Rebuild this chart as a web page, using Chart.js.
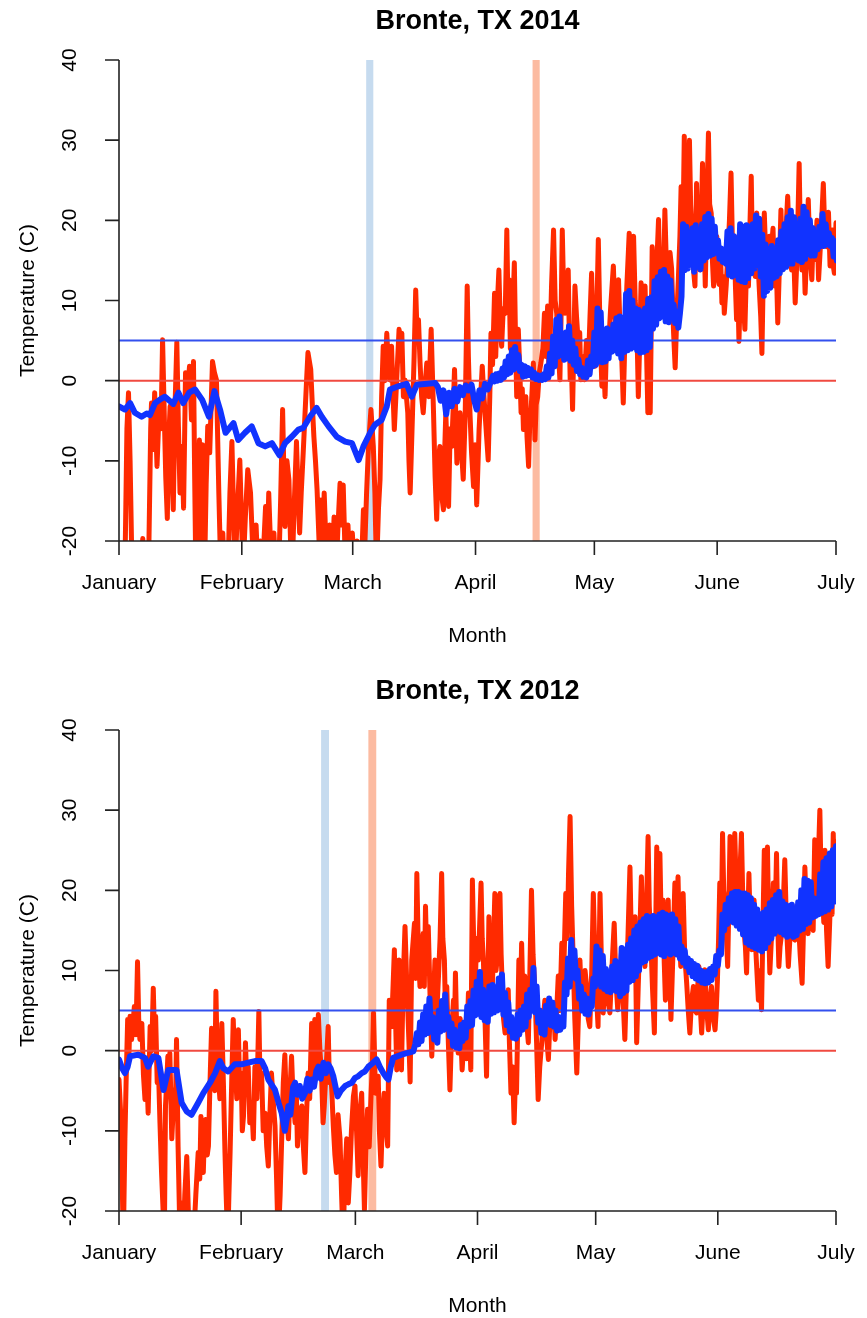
<!DOCTYPE html>
<html>
<head>
<meta charset="utf-8">
<script src="https://cdn.jsdelivr.net/npm/chart.js@4.4.1/dist/chart.umd.min.js"></script>
<style>
  body { margin: 0; background: #fff; }
  .panel { position: absolute; left: 0; width: 867px; height: 648px; }
</style>
</head>
<body>
<div class="panel" style="top:0"><canvas id="chart2014" width="867" height="648"></canvas></div>
<div class="panel" style="top:670px"><canvas id="chart2012" width="867" height="648"></canvas></div>
<script>
// x = day of year (0 = Jan 1), y = temperature (C). values below -20 are cut off by the plot
const monthNames = ['January', 'February', 'March', 'April', 'May', 'June', 'July'];
const monthStart2014 = [0, 31, 59, 90, 120, 151, 181];
const monthStart2012 = [0, 31, 60, 91, 121, 152, 182];
const tempTicks = [-20, -10, 0, 10, 20, 30, 40];

const coldBand2014 = [62.4, 64.2];
const warmBand2014 = [104.4, 106.2];
const coldBand2012 = [51.3, 53.3];
const warmBand2012 = [63.3, 65.3];

// air temperature, [day, C]
const airTemp2014 = [[0,-24],[1,-24],[1.6,-20],[2,-6],[2.4,-1.5],[2.8,-10],[3.3,-24],[5.5,-24],[6,-19.7],[6.4,-24],[7.5,-22],[8,-6],[8.2,-2.8],[8.6,-8.6],[9,-1.5],[9.6,-10.7],[10.2,-2.8],[10.6,-6],[11,5.1],[11.5,-5.7],[11.8,-12],[12.2,-17.2],[12.5,-8],[12.9,-3.2],[13.3,-9.9],[13.7,-16.1],[14.1,-4],[14.6,4.8],[15,-5.7],[15.4,-14],[15.9,-8.2],[16.3,-15.9],[16.8,1],[17.3,-1.5],[17.8,1.8],[18.3,-4.9],[18.8,2.4],[19.1,-12],[19.4,-24],[19.8,-15],[20.3,-7.4],[20.7,-24],[21.1,-8],[21.6,-24],[22,-13],[22.4,-5.7],[22.9,-9],[23.6,2.4],[24.1,1],[24.6,0.1],[25.2,-14],[25.7,-24],[26.2,-19],[26.6,-24],[27,-22],[27.5,-24],[28,-14],[28.5,-7.6],[29.3,-24],[29.9,-16],[30.5,-9.9],[31.3,-24],[31.9,-17],[32.5,-11.1],[33.2,-14],[34,-24],[34.6,-18],[35.1,-24],[35.7,-20],[36,-24],[36.5,-21],[37,-15.7],[37.4,-22],[37.8,-14],[38.5,-24],[39.1,-19],[39.6,-24],[40.3,-24],[40.8,-15],[41.3,-3.6],[41.9,-18.2],[42.4,-10],[42.9,-12.4],[43.3,-20],[43.7,-24],[44.2,-16],[44.8,-7.6],[45.2,-14],[45.6,-19],[46,-14],[46.5,-9],[47.3,-0.5],[47.7,3.5],[48.4,1.4],[48.8,-3],[49.2,-7],[49.6,-10],[50,-13.6],[50.5,-20],[51,-14.9],[51.4,-21],[51.8,-14],[52.5,-24],[53.2,-18],[53.7,-24],[54.3,-17],[54.8,-24],[55.3,-18],[55.8,-12.8],[56.2,-18],[56.6,-13],[57.2,-24],[57.8,-18],[58.3,-24],[58.9,-19],[59.5,-24],[60.1,-20],[60.7,-24],[61.3,-22],[61.7,-16.1],[62.1,-20],[62.5,-14],[63,-8],[63.6,-3.6],[64.2,-8.2],[64.6,-14],[65,-24],[65.5,-16],[65.9,-12.3],[66.3,-2],[66.7,4.3],[67.1,0],[67.6,5.9],[68,2],[68.4,0.1],[68.8,4.3],[69.2,-2],[69.5,-6.1],[70.1,0.1],[70.7,6.4],[71.1,2.5],[71.4,5.9],[71.8,-2],[72.2,0.1],[72.9,-4],[73.2,-10],[73.5,-14],[74.1,-4],[74.5,3],[74.9,11.3],[75.3,5],[75.6,7.6],[76,2.2],[76.4,-2],[76.8,-4],[77.2,-1],[77.7,2.2],[78.2,-2],[78.8,6.4],[79.4,-4],[79.8,-12],[80.2,-17.3],[80.6,-10],[81,-8.2],[81.4,-14],[81.9,-16.1],[82.2,-9],[82.5,-4],[82.9,-10],[83.2,-15.7],[83.6,-6],[84,-8.2],[84.4,-3],[84.7,1.4],[85,-4],[85.3,-10.3],[85.7,-6],[86.1,-4],[86.5,-9],[86.9,-12.3],[87.4,-4],[87.9,11.8],[88.2,3],[88.6,-4],[89,-9],[89.5,-13.2],[89.9,-8],[90.3,-15.5],[90.9,-6.1],[91.3,-2],[91.7,1.8],[92,-1],[92.4,-4],[92.8,-7],[93.2,-9.9],[93.6,-2],[93.9,5.9],[94.3,2],[94.8,10.9],[95.1,3],[95.4,8.4],[95.9,13.8],[96.3,6],[96.6,4.3],[97,9],[97.5,8.4],[97.9,18.8],[98.2,9],[98.5,12.6],[98.8,4],[99.1,6.4],[99.5,10],[99.8,14.7],[100.1,5],[100.4,-2],[100.8,6.4],[101.2,1],[101.5,-4],[101.8,-1],[102.1,-6.1],[102.4,-2.5],[102.7,-2],[103,-7],[103.4,-10.7],[103.7,-5],[104,-4],[104.3,-1],[104.6,2.2],[105,-7.4],[105.3,-3],[105.7,-2],[106.1,1],[106.5,2.2],[107,4],[107.4,8.4],[107.8,3],[108.2,9.3],[108.5,2],[108.8,4.3],[109.2,12],[109.7,18.8],[110.1,10],[110.5,8.4],[110.9,4],[111.3,0.1],[111.6,8],[111.9,18.8],[112.2,12],[112.6,8.4],[113,10],[113.4,13.8],[113.7,5],[113.9,0.1],[114.2,2],[114.5,-3.6],[114.8,4],[115.1,11.8],[115.5,8],[116,4.3],[116.3,6],[116.6,0.1],[117,3],[117.5,0.1],[118,5],[118.5,2.2],[118.9,8],[119.3,13.4],[119.7,6],[120.2,1.8],[120.6,8],[121,17.6],[121.4,7],[121.9,-0.7],[122.3,3],[122.7,-2],[123.1,5],[123.5,3.4],[124.1,9],[124.8,14.3],[125.2,8],[125.6,5.5],[126.1,12.6],[126.5,6],[126.9,3],[127.3,-2.8],[127.7,5],[128.2,11.8],[128.8,18.4],[129.4,8],[129.9,18],[130.3,10],[130.7,7.6],[131.1,-2],[131.5,6],[131.8,12.2],[132.3,6],[132.8,11.8],[133.2,3],[133.5,-4],[133.8,2],[134.1,-4],[134.6,16.7],[135,11],[135.3,9.3],[135.8,15],[136.2,20.1],[136.6,12],[137,14.7],[137.4,10],[137.8,21.3],[138.2,14],[138.7,9.3],[139.1,16],[139.5,14],[140,6],[140.4,1.6],[140.8,8],[141.2,12.6],[141.6,18],[141.9,24.2],[142.3,16],[142.7,30.5],[143,20],[143.3,24.2],[143.6,16],[144,30],[144.3,22],[144.6,18.8],[145,14],[145.4,11.8],[145.8,24.6],[146.2,16],[146.7,13.8],[147,20],[147.3,27.1],[147.7,18],[148,11.8],[148.4,22],[148.8,30.9],[149.1,22],[149.5,20.9],[149.8,15],[150.1,11.8],[150.5,16],[150.9,18],[151.2,13],[151.5,12],[151.9,15],[152.2,9.7],[152.5,13],[152.8,8.4],[153.3,12],[153.7,15.9],[154.1,20],[154.5,25.9],[154.9,16],[155.4,18],[155.6,12],[155.9,7.6],[156.2,12],[156.5,4.9],[156.9,12],[157.2,15.9],[157.6,10],[158,6.4],[158.4,14],[158.9,11.8],[159.2,18],[159.6,25.5],[159.9,16],[160.2,18],[160.6,13],[161,20.9],[161.3,15],[161.6,11.8],[162,8],[162.3,3.4],[162.6,12],[162.9,20.9],[163.3,15],[163.8,13.8],[164.2,18],[164.6,15.9],[165.1,19],[165.5,11.8],[165.9,15],[166.3,7.2],[166.7,14],[167.1,21.3],[167.5,14],[168,15.1],[168.4,19],[168.8,23],[169.3,16],[169.8,13.8],[170.2,18],[170.7,9.7],[171.2,16],[171.7,27.1],[172,18],[172.4,13.8],[172.8,18],[173.2,10.9],[173.6,16],[174,22.6],[174.4,16],[174.9,12.6],[175.3,19],[175.7,15.1],[176.2,20],[176.6,12.6],[177.2,18],[177.8,24.6],[178.2,18],[178.7,16.7],[179.1,21],[179.5,14.3],[179.8,17],[180.1,18.8],[180.4,14],[180.6,13.4],[180.8,17],[181,19.7]];

const airTemp2012 = [[0,-3.6],[0.5,-8.6],[0.8,-16],[1.1,-24],[1.5,-11],[1.8,-4],[2.2,3.9],[2.5,-1],[2.8,4.3],[3.2,1.4],[3.9,5.5],[4.3,2],[4.7,11.1],[5,4],[5.3,1.4],[5.8,3.4],[6.2,-3],[6.6,-6.1],[7,-2],[7.4,-7.8],[7.9,3],[8.3,0],[8.7,7.8],[9,2],[9.3,4.3],[9.7,-4],[10,-2],[10.4,-9],[10.8,-15.2],[11.2,-20],[11.5,-24],[11.8,-6.9],[12.1,-4],[12.4,-0.7],[12.6,-5],[12.9,-0.3],[13.4,-11],[13.7,-8],[14,-4.9],[14.3,-8],[14.6,1.4],[15,-12],[15.5,-24],[15.9,-19],[16.3,-24],[16.7,-18],[17.2,-13.2],[17.6,-20],[18,-24],[18.4,-21],[18.9,-24],[19.5,-18],[20.1,-12.7],[20.5,-16],[20.8,-8.2],[21.1,-12],[21.4,-15.2],[21.7,-10],[22,-8.6],[22.4,-13],[22.7,-11.9],[23.1,-4],[23.5,2.8],[23.8,-4],[24.1,-2],[24.3,-5],[24.6,7.4],[24.9,0],[25.2,-2.8],[25.6,-6],[26.1,3.4],[26.5,-4],[26.9,-12.7],[27.2,-18],[27.6,-24],[27.9,-18],[28.2,-12.7],[28.6,-4],[29,3.9],[29.3,-1],[29.6,-2.8],[29.9,-6],[30.3,2.6],[30.6,-4],[31,-2.8],[31.3,-10],[31.6,-8.2],[31.9,-3],[32.1,1],[32.5,-5],[32.8,-2],[33.2,-9],[33.7,-6.9],[34.1,-11],[34.5,-2],[35,-6],[35.5,4.9],[35.8,-4],[36.2,-2.8],[36.6,-10],[37.1,-7.8],[37.5,-12],[37.9,-14.4],[38.3,-8],[38.7,-2.8],[39.1,-6],[39.6,-9.4],[40,-16],[40.4,-24],[40.9,-18],[41.3,-11],[41.7,-4],[42.1,-0.5],[42.5,-7],[43,-11],[43.4,-5],[43.8,-0.7],[44.2,-6],[44.7,-9],[45,-5],[45.3,-11.9],[45.8,-8],[46.4,-6.9],[46.8,-12],[47.2,-15.2],[47.6,-8],[48,-2.8],[48.4,-6],[48.9,3.4],[49.3,-3],[49.7,3.9],[50.1,-2],[50.6,4.5],[51,0],[51.4,-2.8],[51.8,-9],[52.1,-6.9],[52.6,-2],[53.1,3],[53.4,-4],[53.8,-2.8],[54.1,-6],[54.4,-9.4],[54.8,-13],[55.2,-15.2],[55.6,-8],[56.1,-11],[56.5,-18],[56.9,-24],[57.3,-16],[57.8,-11],[58.2,-19],[58.6,-15.2],[59,-10],[59.5,-5.7],[59.9,-4.4],[60.3,-10],[60.7,-15.6],[61.1,-8],[61.6,-5.3],[61.9,-12],[62.3,-19.8],[62.7,-12],[63.1,-7.3],[63.5,-12],[64,-5.3],[64.3,-2],[64.6,4.7],[65.1,-5.3],[65.8,-3.2],[66.1,-10],[66.5,-14.4],[66.9,-8],[67.3,-5.3],[67.7,-9],[68.2,-11.9],[68.6,6.3],[69.2,3],[69.9,12.6],[70.2,4],[70.5,-2.4],[70.8,6],[71.1,11.3],[71.4,3],[71.7,-2.4],[72.1,8],[72.6,15.5],[73,9],[73.3,5.1],[73.6,1],[73.9,-3.9],[74.3,11.3],[75,15.9],[75.3,9],[75.6,22.1],[76,12],[76.4,8],[76.8,12],[77.2,14.6],[77.5,8],[77.8,18],[78.2,10],[78.5,15.5],[79,6],[79.4,-0.7],[79.8,6],[80.2,11.3],[80.6,4],[81.1,9.3],[81.5,14],[81.9,22.1],[82.2,14],[82.6,11.3],[82.9,4],[83.2,8],[83.6,1],[84,-4.9],[84.4,2],[84.9,6.3],[85.1,1],[85.4,9.7],[85.7,3],[86.1,-0.3],[86.6,4],[87.1,-2.4],[87.5,1],[87.8,3],[88.2,-1],[88.7,7.2],[89,2],[89.3,-2.4],[89.7,21.3],[90.1,12],[90.4,8],[90.8,14],[91.2,11.3],[91.5,15],[91.9,20.9],[92.2,14],[92.5,11.3],[92.9,4],[93.3,-3.2],[93.9,16.7],[94.2,9],[94.6,4.7],[95,12],[95.4,19.6],[95.7,10],[96.1,12],[96.4,18],[96.7,19.6],[97,12],[97.3,8],[97.6,4],[98,2.2],[98.4,5],[98.8,7.6],[99.1,1],[99.5,-5.3],[99.9,-2],[100.3,-9],[100.6,-4],[100.9,-5.3],[101.2,3],[101.5,11.3],[101.9,6],[102.2,13.4],[102.6,5],[103,9.3],[103.4,4],[103.9,1],[104.3,10],[104.7,20],[105.1,12],[105.6,7.2],[106,1],[106.4,-6.1],[106.8,-2],[107.3,1],[107.7,4],[108.1,6.3],[108.5,2],[109,-1.1],[109.4,4],[109.8,3],[110.3,6],[110.7,1.4],[111.1,5],[111.5,9.3],[111.9,5],[112.4,13.4],[112.8,8],[113.4,19.6],[113.8,14],[114.1,22],[114.5,29.2],[114.9,18],[115.3,11.3],[115.7,4],[116.2,-2.8],[116.6,4],[117,11.3],[117.4,6],[117.9,5.1],[118.3,10],[118.7,8],[119.1,4],[119.5,3],[120,10],[120.4,19.6],[120.8,12],[121.1,8],[121.6,3],[122.1,19.6],[122.5,10],[122.9,4.7],[123.3,8],[123.8,9.7],[124.2,6],[124.6,4.7],[125.1,10],[125.7,15.9],[126.1,9],[126.6,5.1],[127.1,9],[127.6,12.6],[128,6],[128.4,1.4],[128.8,8],[129.1,12.6],[129.7,22.9],[130,15],[130.3,10.5],[130.7,14],[131,16.7],[131.4,1],[131.8,8],[132.1,12.6],[132.6,21.7],[133,14],[133.5,10.5],[133.9,18],[134.3,26.7],[134.6,18],[135,13.8],[135.4,8],[135.9,2.2],[136.2,14],[136.5,25.4],[136.9,16],[137.3,24.6],[137.7,14],[138.1,18.8],[138.4,11],[138.7,6.3],[139.1,12],[139.4,18.8],[139.8,10],[140.1,3.9],[140.6,12],[141.1,20.9],[141.5,14],[141.9,21.7],[142.2,15],[142.6,10.5],[142.9,14],[143.2,19.6],[143.6,12],[144.1,8.4],[144.5,5],[144.9,2.2],[145.3,6],[145.8,8],[146.2,5],[146.6,4.7],[146.9,8],[147.2,10.5],[147.6,5],[147.9,2.2],[148.3,6],[148.7,10.1],[149.2,5],[149.6,2.6],[150,6],[150.4,8],[150.9,4],[151.3,2.6],[151.6,5],[151.9,8.8],[152.2,14],[152.5,20.9],[152.9,16],[153.2,27.1],[153.5,20],[153.8,18.8],[154.2,14],[154.5,10.5],[154.8,18],[155.1,26.7],[155.4,20],[155.7,18],[156,22],[156.3,27.1],[156.7,20],[157.2,18.8],[157.6,22],[158,27.1],[158.3,20],[158.7,14.6],[159,13],[159.3,9.7],[159.6,16],[159.9,22.1],[160.2,16],[160.6,12.6],[160.9,15],[161.2,18.8],[161.7,12],[162.3,6.3],[162.7,10],[163.1,5.1],[163.4,14],[163.8,25],[164.2,18],[164.6,25.4],[164.9,16],[165.2,9.7],[165.6,14],[166.1,20.9],[166.5,15],[166.9,24.6],[167.2,16],[167.5,10.5],[167.8,13],[168.2,14.6],[168.6,18],[169,23.8],[169.4,16],[169.9,10.5],[170.3,14],[170.7,18],[171.1,14],[171.6,13.8],[172,18],[172.4,16.7],[172.9,12],[173.4,8.4],[173.8,16],[174.1,22.9],[174.5,17],[174.9,14.6],[175.3,18],[175.8,18.8],[176.2,15],[176.6,26.3],[177,17.1],[177.4,22],[177.9,30],[178.2,22],[178.5,20.9],[178.9,16],[179.2,25],[179.6,15],[180,10.5],[180.4,16],[180.7,20.9],[181,17],[181.3,27.1],[181.7,18.8],[182,26]];

// soil temperature: slow part as [day, C] ...
const soilTemp2014 = [[0,-3.2],[1.5,-3.6],[2.8,-2.8],[4,-4],[5.7,-4.5],[7,-4.1],[7.8,-4.3],[9.1,-2.8],[10.5,-2.3],[11.6,-2],[13.7,-2.9],[15,-1.5],[16.2,-2.8],[17.7,-1.5],[19.2,-1.1],[21,-2.4],[22.7,-4.5],[24.1,-1.3],[25.5,-3.6],[26.9,-6.5],[28.9,-5.3],[30.1,-7.4],[31.8,-6.5],[33.5,-5.7],[35.2,-7.8],[36.9,-8.2],[38.6,-7.8],[40.5,-9.3],[41.9,-7.8],[43.6,-7],[45.3,-6.1],[46.5,-5.9],[48.2,-4.5],[49.9,-3.4],[51.2,-4.5],[52.9,-5.7],[55,-7],[57.1,-7.6],[58.8,-7.8],[60.5,-9.9],[61.7,-8.2],[63.4,-6.5],[64.6,-5.5],[66.3,-4.9],[67.6,-3.2],[68.4,-1.1],[70.5,-0.7],[72.6,-0.4],[73.9,-2],[75.2,-0.5],[79.8,-0.3],[80.5,-0.8],[81.2,-2.5],[81.9,-1.2],[82.6,-4.2],[83.3,-1.5],[84,-3.2],[84.7,-1],[85.4,-2.6],[86.1,-0.8],[86.8,-1.8],[87.5,-0.6],[88.3,-1.2],[89,-0.5],[89.7,-2.5],[90.3,-3.6],[91,-1.2],[91.7,-2.2],[92.4,-0.4],[93.1,-1.1],[93.8,-0.2]];
const soilTemp2012 = [[0,-1.1],[0.8,-2.2],[1.5,-2.8],[2.2,-2],[2.8,-0.7],[4.9,-0.5],[6.6,-0.9],[7.4,-2],[8.7,-0.7],[10,-0.9],[11.3,-4.9],[12.5,-2.4],[14.6,-2.4],[15.9,-6.5],[17.2,-7.6],[18.4,-8],[20.1,-6.5],[21.4,-5.3],[23.1,-4],[24.4,-2.8],[25.6,-1.3],[26.5,-2.2],[27.7,-2.6],[29.4,-1.7],[31.1,-1.7],[32.8,-1.5],[34.5,-1.3],[36.2,-1.3],[37.1,-2.2],[37.9,-3.6],[39.6,-4.9],[40.5,-6.5],[41.3,-7.8],[42.1,-10],[42.6,-8.5],[43,-6.9],[43.5,-8],[44.2,-4.5],[44.7,-4],[45.3,-5.5],[45.9,-4.4],[46.5,-6],[47.2,-5.3],[47.8,-3.5],[48.4,-5],[48.9,-3.6],[49.5,-4.5],[50.1,-2.5],[50.6,-2],[51.2,-3.5],[51.9,-1.5],[52.5,-2.8],[53.1,-1.7],[53.7,-2.2],[54.4,-3.2],[55,-4.6],[55.5,-5.7],[56.3,-5],[57.4,-4.4],[58.2,-4.2],[59.1,-4],[59.9,-3.4],[60.7,-3.2],[61.6,-2.8],[62.4,-2.6],[63.3,-2],[64.3,-1.6],[65.4,-1.1],[66.2,-2],[67.1,-2.8],[67.8,-3.3],[68.4,-3.6],[69,-2],[69.6,-0.9],[71.7,-0.5],[74.7,-0.1]];

// ... then the daily cycle, one reading every SOIL_STEP days from the start day
const SOIL_STEP = 0.4;
const soilCycleStart2014 = 94.4;
const soilCycle2014 = [
  0.6,-0.1,0.8,0,0.9,0.1,1.5,0.4,2.4,0.8,
  3.0,1.0,3.8,1.4,4.2,1.6,3.2,1.2,2.0,0.5,
  1.8,0.6,1.6,0.7,1.4,0.4,1.0,0.2,0.7,0.1,
  0.6,0.1,0.8,0.2,1.8,0.4,3.4,0.9,5.5,1.8,
  7.6,3.0,8.0,3.2,5.6,2.6,6.0,2.8,6.8,2.5,
  5.0,2.0,4.0,1.2,2.6,0.8,1.6,0.5,1.4,0.4,
  2.5,0.8,3.0,1.8,6.0,2.0,9.0,2.4,8.5,2.3,
  5.8,2.4,6.5,2.8,6.3,3.6,7.0,3.8,7.8,3.4,
  8.0,2.8,6.3,3.6,10.8,3.8,11.2,4.0,10.0,4.2,
  9.0,3.8,8.8,3.5,8.5,3.6,9.0,3.8,10.2,4.2,
  10.4,6.5,12.4,7.0,12.9,7.8,13.6,8.0,13.8,7.4,
  13.0,7.3,12.5,8.5,9.5,7.2,8.6,6.6,8.4,10.5,
  19.5,13.8,19.2,14.0,18.5,14.6,19.0,13.6,19.4,14.2,
  18.8,13.9,19.5,15.0,20.4,15.4,20.8,15.6,20.2,15.8,
  19.2,16.0,17.5,15.2,16.5,14.8,16.2,14.6,18.6,13.2,
  19.0,13.0,18.0,13.2,17.2,12.6,19.5,12.4,19.2,12.3,
  19.4,12.8,19.2,13.4,19.5,14.0,20.6,14.4,20.2,13.0,
  18.2,10.6,17.0,11.2,16.4,11.6,16.8,12.8,16.2,13.0,
  17.5,13.4,18.6,13.9,19.5,14.2,20.4,14.6,21.2,14.6,
  20.4,15.2,19.5,15.0,20.2,14.8,21.7,15.2,21.0,15.8,
  20.0,15.6,19.0,15.6,18.3,16.4,19.2,16.8,20.8,16.8,
  19.5,17.0,18.4,16.8,17.8,15.5,17.4,15.0
];
const soilCycleStart2012 = 75.2;
const soilCycle2012 = [
  0.8,2.2,0.8,3.5,1.2,4.5,2.0,5.5,2.2,6.5,
  2.5,4.2,1.4,4.0,1.0,5.0,2.4,6.2,2.6,7.0,
  2.8,4.2,1.8,3.4,0.6,2.6,0.4,2.2,0.3,3.2,
  1.2,3.5,1.6,5.5,3.0,6.2,3.2,7.5,4.4,8.6,
  4.6,9.8,4.2,7.6,3.8,6.5,3.6,8.0,4.6,8.2,
  4.8,7.8,5.0,9.0,5.2,9.5,4.5,7.2,3.2,6.0,
  2.4,4.2,1.6,3.6,1.5,4.5,2.0,5.0,2.6,5.5,
  3.0,7.0,4.2,7.6,5.0,10.3,4.8,8.0,3.5,5.0,
  2.2,4.6,2.0,5.6,3.4,6.5,3.2,6.0,3.0,5.0,
  2.5,4.2,2.6,4.0,3.0,8.5,7.0,11.5,8.0,13.8,
  9.2,12.5,9.0,10.0,6.5,8.0,5.0,7.0,4.6,6.5,
  4.5,6.2,5.5,9.0,8.0,13.0,8.4,12.5,8.0,11.8,
  7.7,10.2,7.4,9.6,7.3,10.5,7.6,11.2,7.4,11.0,
  6.8,12.8,7.2,12.6,7.5,13.2,8.6,14.0,8.8,15.0,
  9.3,15.5,10.0,16.0,11.0,16.4,11.2,16.8,11.6,16.6,
  11.8,16.8,12.0,16.6,12.2,17.0,12.0,17.2,11.8,17.0,
  12.2,16.8,12.0,17.0,12.2,16.4,12.0,15.5,11.5,13.0,
  11.0,12.5,10.5,11.5,9.8,11.2,9.3,10.8,9.0,10.6,
  8.8,10.0,8.5,9.8,8.4,9.8,8.5,10.2,8.8,10.5,
  9.5,11.8,10.6,12.5,12.0,17.0,15.0,18.2,15.8,19.0,
  16.2,19.6,16.0,19.8,15.6,19.8,15.2,19.6,14.5,19.6,
  13.5,19.4,13.2,19.0,13.0,18.2,12.8,17.6,12.6,17.0,
  12.4,17.2,12.8,17.6,13.5,18.4,14.0,18.8,14.6,19.4,
  15.0,19.8,14.8,18.6,14.5,18.2,14.2,18.0,14.4,18.2,
  14.2,17.5,14.4,18.5,15.0,20.0,15.2,21.4,15.8,21.2,
  16.0,21.0,16.6,19.0,16.8,18.7,17.0,22.0,17.2,23.5,
  17.4,24.0,17.6,24.6,18.0,25.0,18.6,25.5
];

const AIR_COLOR = '#ff2a00';
const SOIL_COLOR = '#1133ff';
const FONT = '"Liberation Sans", Arial, Helvetica, sans-serif';

function toXY(pairs) {
  return pairs.map(p => ({ x: p[0], y: p[1] }));
}

function soilSeries(slow, cycleStart, cycle) {
  const pts = toXY(slow);
  cycle.forEach((v, i) => pts.push({ x: +(cycleStart + i * SOIL_STEP).toFixed(1), y: v }));
  return pts;
}

// R base-graphics look: bands behind, axes + labels drawn by hand on the chart's scales
function rStylePlugin(cfg) {
  return {
    id: 'rStyle',
    beforeDatasetsDraw(chart) {
      const { ctx, scales: { x, y } } = chart;
      const top = y.getPixelForValue(40), bottom = y.getPixelForValue(-20);
      ctx.save();
      [[cfg.coldBand, '#c6dbef'], [cfg.warmBand, '#fcbba1']].forEach(([band, color]) => {
        const x0 = x.getPixelForValue(band[0]);
        const x1 = x.getPixelForValue(band[1]);
        ctx.fillStyle = color;
        ctx.fillRect(x0, top, x1 - x0, bottom - top);
      });
      ctx.restore();
    },
    afterDraw(chart) {
      const { ctx, chartArea: area, scales: { x, y } } = chart;
      ctx.save();
      ctx.strokeStyle = '#222';
      ctx.lineWidth = 1.6;
      ctx.fillStyle = '#000';

      // y axis
      ctx.beginPath();
      ctx.moveTo(area.left, y.getPixelForValue(-20));
      ctx.lineTo(area.left, y.getPixelForValue(40));
      tempTicks.forEach(v => {
        const py = y.getPixelForValue(v);
        ctx.moveTo(area.left - 14, py);
        ctx.lineTo(area.left, py);
      });
      // x axis
      const ay = y.getPixelForValue(-20);
      ctx.moveTo(x.getPixelForValue(cfg.monthStart[0]), ay);
      ctx.lineTo(x.getPixelForValue(cfg.monthStart[cfg.monthStart.length - 1]), ay);
      cfg.monthStart.forEach(d => {
        const px = x.getPixelForValue(d);
        ctx.moveTo(px, ay);
        ctx.lineTo(px, ay + 14);
      });
      ctx.stroke();

      ctx.font = '21px ' + FONT;
      ctx.textAlign = 'center';
      ctx.textBaseline = 'middle';
      tempTicks.forEach(v => {
        ctx.save();
        ctx.translate(area.left - 49, y.getPixelForValue(v));
        ctx.rotate(-Math.PI / 2);
        ctx.fillText(String(v), 0, 0);
        ctx.restore();
      });
      cfg.monthStart.forEach((d, i) => {
        ctx.fillText(monthNames[i], x.getPixelForValue(d), ay + 42);
      });
      ctx.fillText('Month', (area.left + area.right) / 2, ay + 95);
      ctx.save();
      ctx.translate(28, (area.top + area.bottom) / 2);
      ctx.rotate(-Math.PI / 2);
      ctx.fillText('Temperature (C)', 0, 0);
      ctx.restore();

      ctx.font = 'bold 27px ' + FONT;
      ctx.fillText(cfg.title, (area.left + area.right) / 2, 22);
      ctx.restore();
    }
  };
}

function buildChart(id, cfg) {
  const lastDay = cfg.monthStart[cfg.monthStart.length - 1];
  return new Chart(document.getElementById(id), {
    type: 'line',
    data: {
      datasets: [
        { data: cfg.soil, borderColor: SOIL_COLOR, borderWidth: 6, order: 0 },
        { data: [{ x: 0, y: 5 }, { x: lastDay, y: 5 }], borderColor: '#3350ee', borderWidth: 2, order: 1 },
        { data: [{ x: 0, y: 0 }, { x: lastDay, y: 0 }], borderColor: '#f04a40', borderWidth: 2, order: 1 },
        { data: toXY(cfg.air), borderColor: AIR_COLOR, borderWidth: 5, order: 2 }
      ]
    },
    options: {
      responsive: false,
      animation: false,
      devicePixelRatio: 1,
      events: [],
      layout: { padding: { left: 119, right: 31, top: 60, bottom: 107 } },
      elements: {
        point: { radius: 0 },
        line: { tension: 0, fill: false, borderJoinStyle: 'round', borderCapStyle: 'round' }
      },
      datasets: { line: { clip: 0 } },
      scales: {
        x: { type: 'linear', min: 0, max: lastDay, display: false },
        y: { min: -20, max: 40, display: false }
      },
      plugins: { legend: { display: false }, tooltip: { enabled: false } }
    },
    plugins: [rStylePlugin(cfg)]
  });
}

buildChart('chart2014', {
  title: 'Bronte, TX 2014', monthStart: monthStart2014,
  air: airTemp2014, soil: soilSeries(soilTemp2014, soilCycleStart2014, soilCycle2014),
  coldBand: coldBand2014, warmBand: warmBand2014
});
buildChart('chart2012', {
  title: 'Bronte, TX 2012', monthStart: monthStart2012,
  air: airTemp2012, soil: soilSeries(soilTemp2012, soilCycleStart2012, soilCycle2012),
  coldBand: coldBand2012, warmBand: warmBand2012
});
</script>
</body>
</html>
